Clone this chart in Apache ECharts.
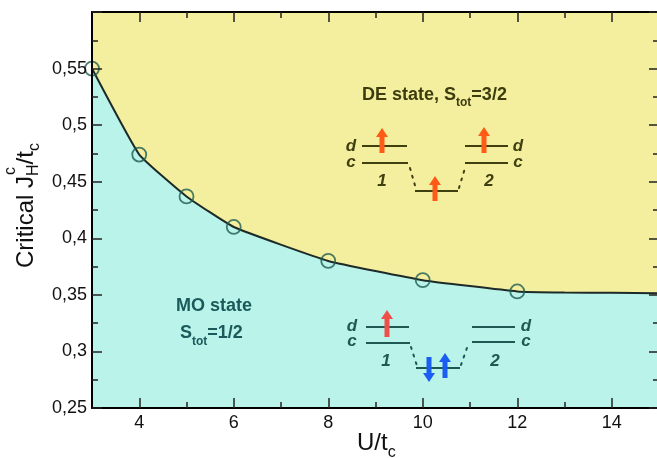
<!DOCTYPE html>
<html><head><meta charset="utf-8">
<script src="https://cdn.jsdelivr.net/npm/echarts@6/dist/echarts.min.js"></script>
<style>html,body{margin:0;padding:0;background:#fff}#c{width:657px;height:458px}</style>
</head><body><div id="c"></div>
<script>
// ---- data ----
const uValues = [3, 4, 5, 6, 8, 10, 12];
const jcValues = [0.55, 0.474, 0.437, 0.41, 0.38, 0.363, 0.353];
const curveU = [3, 4, 5, 6, 8, 10, 12, 13, 14, 15];
const curveJ = [0.55, 0.474, 0.437, 0.41, 0.38, 0.363, 0.353, 0.352, 0.3518, 0.3515];
const xMajorTicks = [4, 6, 8, 10, 12, 14];
const xMinorTicks = [5, 7, 9, 11, 13];
const yRange = [0.25, 0.6];
const yStep = 0.05;

const FONT = '"Liberation Sans", Arial, Helvetica, sans-serif';
const YELLOW = '#f3ef9e';
const CYAN = '#b9f3ea';
const ctx = document.createElement('canvas').getContext('2d');

function textRuns(x0, base, runs, color, weight, fstyle) {
  let x = x0; const out = [];
  for (const r of runs) {
    const font = (fstyle || 'normal') + ' ' + weight + ' ' + r.size + 'px ' + FONT;
    ctx.font = font;
    const w = ctx.measureText(r.t).width;
    const xx = x + (r.dx || 0);
    out.push({type: 'text', x: xx, y: base + (r.dy || 0) - 0.35 * r.size, silent: true, z: 100,
      style: {text: r.t, fontSize: r.size, fontFamily: FONT, fontWeight: weight, fontStyle: fstyle || 'normal',
        fill: color, align: 'left', verticalAlign: 'middle'}});
    if (!r.noAdvance) x = xx + w;
  }
  return out;
}
function label(t, cx, base, color) {
  return {type: 'text', x: cx, y: base - 0.35 * 17, silent: true, z: 100,
    style: {text: t, fontSize: 17, fontFamily: FONT, fontWeight: 'bold', fontStyle: 'italic',
      fill: color, align: 'center', verticalAlign: 'middle'}};
}
function hline(x1, x2, y, color) {
  return {type: 'line', silent: true, z: 100, shape: {x1: x1, y1: y, x2: x2, y2: y}, style: {stroke: color, lineWidth: 2}};
}
function dots(x1, y1, x2, y2, color) {
  return {type: 'line', silent: true, z: 100, shape: {x1: x1, y1: y1, x2: x2, y2: y2},
    style: {stroke: color, lineWidth: 2, lineDash: [2, 6], lineCap: 'round'}};
}
function arrow(x, yTail, yTip, color) {
  const s = yTip < yTail ? 1 : -1; // 1 = up
  const hh = 9 * s, sw = 2.5, hw = 6;
  return {type: 'polygon', silent: true, z: 101, shape: {points: [
    [x - sw, yTail], [x + sw, yTail], [x + sw, yTip + hh], [x + hw, yTip + hh],
    [x, yTip], [x - hw, yTip + hh], [x - sw, yTip + hh]]}, style: {fill: color}};
}

const OLIVE = '#3f3f10', TEAL = '#1f5852';
const ORANGE = '#ff5a16', RED = '#ee5049', BLUE = '#1b5cf2';

const graphics = [];
graphics.push(...textRuns(362, 101, [{t: 'DE state, S', size: 18}, {t: 'tot', size: 12, dy: 6}, {t: '=3/2', size: 18}], '#3d3c0e', 'bold'));
graphics.push(...textRuns(176, 312, [{t: 'MO state', size: 18}], '#1b5a5a', 'bold'));
graphics.push(...textRuns(180, 339, [{t: 'S', size: 18}, {t: 'tot', size: 12, dy: 7}, {t: '=1/2', size: 18}], '#1b5a5a', 'bold'));
// DE diagram
graphics.push(hline(362, 407, 146, OLIVE), hline(362, 408, 163, OLIVE),
  dots(410, 168, 416, 189, OLIVE), hline(415, 458, 191, OLIVE), dots(459, 188, 465, 168, OLIVE),
  hline(465, 508, 146, OLIVE), hline(465, 508, 163, OLIVE),
  label('d', 351, 152, OLIVE), label('c', 351, 168, OLIVE), label('d', 518, 152, OLIVE), label('c', 518, 168, OLIVE),
  label('1', 382, 187, OLIVE), label('2', 489, 187, OLIVE),
  arrow(382, 153, 128, ORANGE), arrow(484, 153, 127, ORANGE), arrow(435, 201, 176, ORANGE));
// MO diagram
graphics.push(hline(366, 409, 327, TEAL), hline(366, 410, 343, TEAL),
  dots(411, 347, 417, 366, TEAL), hline(416, 460, 368, TEAL), dots(461, 365, 468, 345, TEAL),
  hline(472, 515, 327, TEAL), hline(472, 515, 342, TEAL),
  label('d', 352, 332, TEAL), label('c', 352, 347, TEAL), label('d', 526, 332, TEAL), label('c', 526, 347, TEAL),
  label('1', 386, 367, TEAL), label('2', 495, 367, TEAL),
  arrow(387, 337, 310, RED), arrow(429, 357, 382, BLUE), arrow(445, 378, 353, BLUE));
// axis titles
graphics.push(...textRuns(357, 452, [{t: 'U/t', size: 24}, {t: 'c', size: 16, dy: 6}], '#111', 'normal'));
graphics.push({type: 'group', x: 35, y: 268, rotation: Math.PI / 2, z: 100, children:
  textRuns(0, 0, [{t: 'Critical J', size: 24}, {t: 'c', size: 16, dy: -19, noAdvance: true, dx: 1},
    {t: 'H', size: 16, dy: 4}, {t: '/t', size: 24}, {t: 'c', size: 16, dy: 5}], '#111', 'normal')});

const tickStyle = {color: '#222', width: 1.5};
function xAx(pos, ticks, len, showLine, showLabel) {
  return {type: 'value', min: 3, max: 15, position: pos, z: 10,
    axisLine: {show: showLine, onZero: false, lineStyle: {color: '#000', width: 2}},
    axisTick: {show: true, inside: true, length: len, customValues: ticks, lineStyle: tickStyle},
    axisLabel: {show: showLabel, customValues: ticks, fontSize: 18, color: '#111', fontFamily: FONT, margin: 6},
    splitLine: {show: false}};
}
function yAx(pos, showLabel) {
  return {type: 'value', min: yRange[0], max: yRange[1], interval: yStep, position: pos, z: 10,
    axisLine: {show: true, onZero: false, lineStyle: {color: '#000', width: 2}},
    axisTick: {show: true, inside: true, length: 10, lineStyle: tickStyle},
    minorTick: {show: true, splitNumber: 2, length: 6, lineStyle: tickStyle},
    axisLabel: {show: showLabel, fontSize: 18, color: '#111', fontFamily: FONT, margin: 5,
      formatter: v => v > 0.59 ? '' : String(+v.toFixed(2)).replace('.', ',')},
    splitLine: {show: false}, minorSplitLine: {show: false}};
}

const chart = echarts.init(document.getElementById('c'), null, {renderer: 'canvas'});
chart.setOption({
  animation: false,
  backgroundColor: '#fff',
  grid: {left: 92, right: -2, top: 12, bottom: 50, show: true, backgroundColor: YELLOW, borderWidth: 0,
    containLabel: false, outerBoundsMode: 'none'},
  xAxis: [xAx('bottom', xMajorTicks, 10, true, true), xAx('bottom', xMinorTicks, 6, false, false),
          xAx('top', xMajorTicks, 10, true, false), xAx('top', xMinorTicks, 6, false, false)],
  yAxis: [yAx('left', true), yAx('right', false)],
  series: [
    {type: 'line', xAxisIndex: 0, yAxisIndex: 0, data: curveU.map((u, i) => [u, curveJ[i]]),
     smooth: 0.12, showSymbol: false, symbol: 'none', z: 2,
     lineStyle: {color: '#1d2a28', width: 2}, areaStyle: {color: CYAN, opacity: 1, origin: 'start'}},
    {type: 'scatter', xAxisIndex: 0, yAxisIndex: 0, data: uValues.map((u, i) => [u, jcValues[i]]),
     symbol: 'circle', symbolSize: 14, z: 3,
     itemStyle: {color: 'rgba(0,0,0,0)', borderColor: '#1f5c50', borderWidth: 1.8}}
  ],
  graphic: graphics
});
</script></body></html>
